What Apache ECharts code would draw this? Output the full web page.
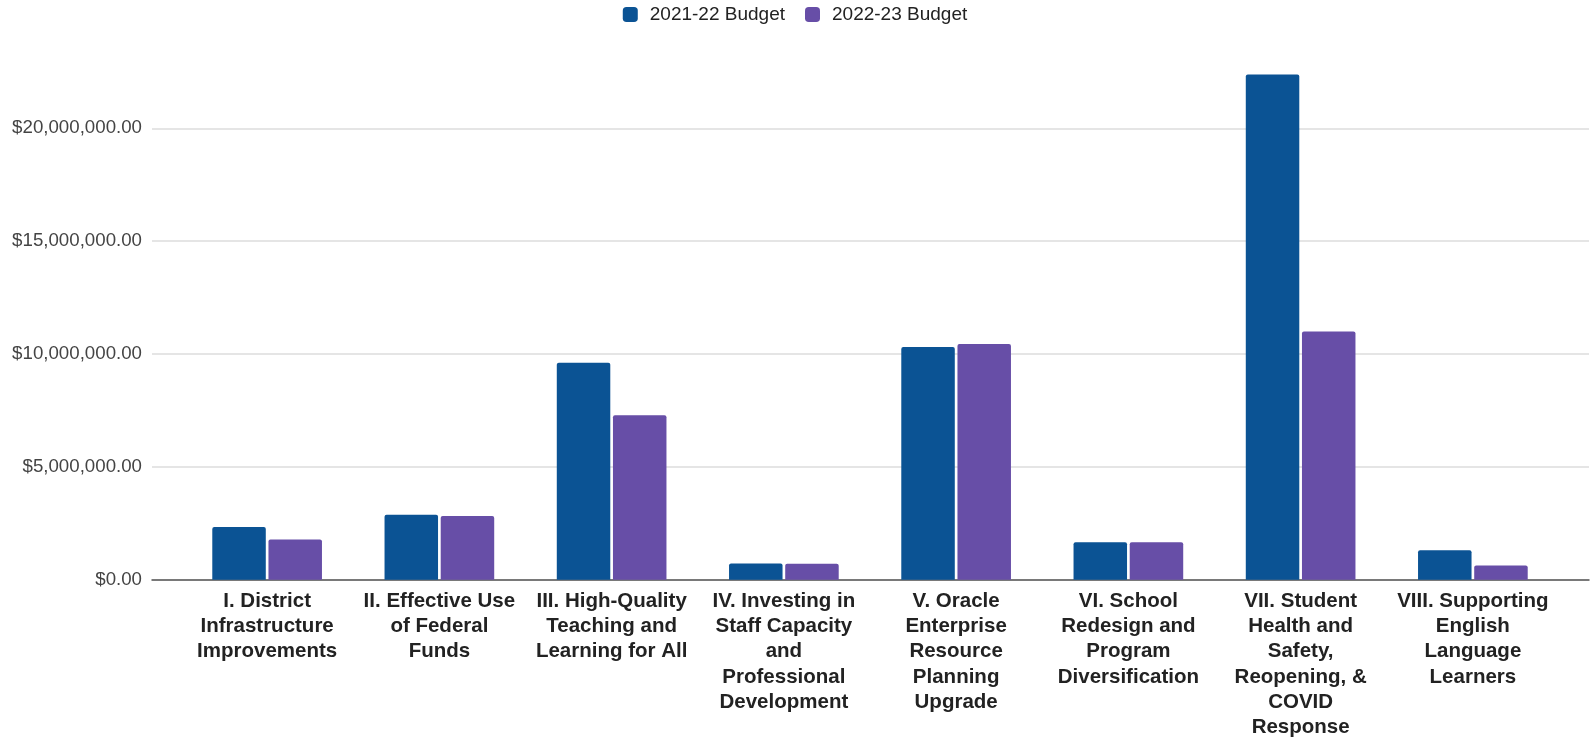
<!DOCTYPE html>
<html>
<head>
<meta charset="utf-8">
<title>Budget by Area</title>
<script src="https://cdn.jsdelivr.net/npm/echarts@6/dist/echarts.min.js"></script>
<style>
  html, body { margin: 0; padding: 0; background: #ffffff; }
  #chart { width: 1590px; height: 740px; }
</style>
</head>
<body>
<div id="chart"></div>
<script>
// Budget areas (line breaks are how the axis labels wrap)
const categories = [
  'I. District\nInfrastructure\nImprovements',
  'II. Effective Use\nof Federal\nFunds',
  'III. High-Quality\nTeaching and\nLearning for All',
  'IV. Investing in\nStaff Capacity\nand\nProfessional\nDevelopment',
  'V. Oracle\nEnterprise\nResource\nPlanning\nUpgrade',
  'VI. School\nRedesign and\nProgram\nDiversification',
  'VII. Student\nHealth and\nSafety,\nReopening, &\nCOVID\nResponse',
  'VIII. Supporting\nEnglish\nLanguage\nLearners'
];

const seriesNames = ['2021-22 Budget', '2022-23 Budget'];

// Dollar amounts per area
const budget2122 = [2340000, 2885000, 9620000, 720000, 10310000, 1660000, 22380000, 1310000];
const budget2223 = [1780000, 2830000, 7290000, 715000, 10440000, 1660000, 11000000, 630000];

// Value axis ticks
const yMin = 0;
const yMax = 20000000;
const yStep = 5000000;

function dollars(v) {
  const fixed = Number(v).toFixed(2);
  const parts = fixed.split('.');
  const whole = parts[0].replace(/\B(?=(\d{3})+(?!\d))/g, ',');
  return '$' + whole + '.' + parts[1];
}

const FONT = "'Liberation Sans', Arial, sans-serif";
const chart = echarts.init(document.getElementById('chart'), null, { renderer: 'canvas' });

chart.setOption({
  animation: false,
  backgroundColor: '#ffffff',
  color: ['#0b5394', '#674ea7'],
  legend: {
    top: 0,
    left: 'center',
    itemWidth: 15,
    itemHeight: 15,
    itemGap: 20,
    icon: 'roundRect',
    textStyle: { fontFamily: FONT, fontSize: 19, color: '#222222', padding: [0, 0, 0, 7] },
    data: seriesNames
  },
  grid: [
    // full-width plot frame with gridlines and baseline
    { left: 152, right: 1, top: 128.3, bottom: 160 },
    // bar area
    { left: 181, right: 31, top: 128.3, bottom: 160 }
  ],
  xAxis: [
    {
      gridIndex: 0,
      type: 'category',
      data: categories,
      axisLine: { show: true, lineStyle: { color: '#555555', width: 1.5 } },
      axisTick: { show: false },
      axisLabel: { show: false },
      splitLine: { show: false }
    },
    {
      gridIndex: 1,
      type: 'category',
      data: categories,
      axisLine: { show: false },
      axisTick: { show: false },
      axisLabel: {
        interval: 0,
        margin: 9,
        fontFamily: FONT,
        fontSize: 20.5,
        fontWeight: 'bold',
        lineHeight: 25.2,
        color: '#222222',
        align: 'center'
      }
    }
  ],
  yAxis: [
    {
      gridIndex: 0,
      type: 'value',
      min: yMin,
      max: yMax,
      interval: yStep,
      axisLine: { show: false },
      axisTick: { show: false },
      axisLabel: {
        margin: 10,
        fontFamily: FONT,
        fontSize: 18.7,
        color: '#444444',
        formatter: dollars
      },
      splitLine: { show: true, lineStyle: { color: '#dcdcdc', width: 1.5 } }
    },
    {
      gridIndex: 1,
      type: 'value',
      min: yMin,
      max: yMax,
      interval: yStep,
      show: false,
      splitLine: { show: false }
    }
  ],
  series: [
    {
      name: seriesNames[0],
      type: 'bar',
      xAxisIndex: 1,
      yAxisIndex: 1,
      data: budget2122,
      barWidth: 53.5,
      barGap: '5%',
      clip: false,
      itemStyle: { borderRadius: [2, 2, 0, 0] }
    },
    {
      name: seriesNames[1],
      type: 'bar',
      xAxisIndex: 1,
      yAxisIndex: 1,
      data: budget2223,
      barWidth: 53.5,
      barGap: '5%',
      clip: false,
      itemStyle: { borderRadius: [2, 2, 0, 0] }
    }
  ]
});
</script>
</body>
</html>
